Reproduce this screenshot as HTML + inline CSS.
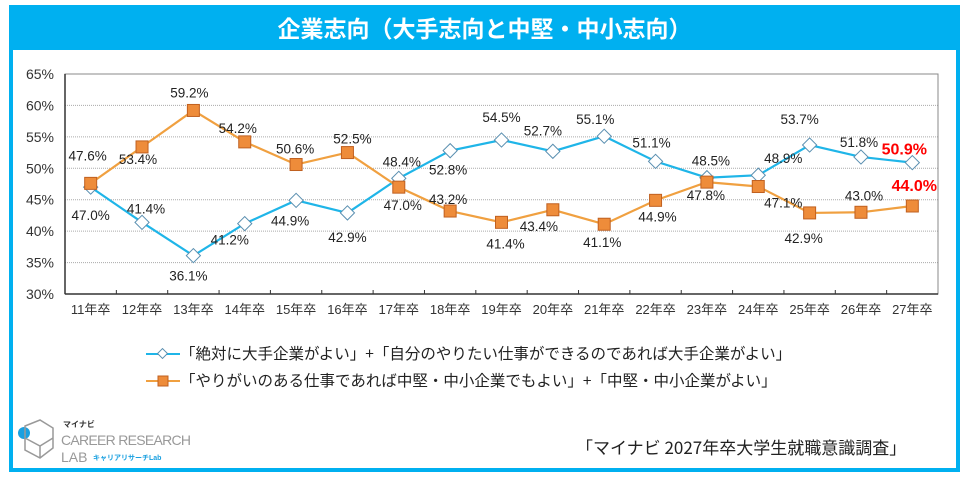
<!DOCTYPE html>
<html><head><meta charset="utf-8">
<style>
body{margin:0;width:968px;height:487px;background:#fff;overflow:hidden;font-family:"Liberation Sans","Noto Sans CJK JP",sans-serif;}
#frame{position:absolute;left:9px;top:5px;width:943px;height:463px;border:4px solid #00b0f0;border-top:none;}
#title{position:absolute;left:9px;top:5px;width:951px;height:45px;background:#00b0f0;color:#fff;font-weight:bold;font-size:23px;text-align:center;line-height:45px;font-family:"Noto Sans CJK JP",sans-serif;}
svg{position:absolute;left:0;top:0}
.leg{position:absolute;left:146px;font-size:15.5px;color:#222;font-family:"Noto Sans CJK JP",sans-serif;white-space:nowrap;}
#src{position:absolute;left:576px;top:434px;font-size:17px;color:#222;font-family:"Noto Sans CJK JP",sans-serif;white-space:nowrap;}
</style></head><body>
<div id="frame"></div>
<div id="title">企業志向（大手志向と中堅・中小志向）</div>
<svg id="chart" width="968" height="487"></svg>
<div class="leg" style="top:342px"><svg width="34" height="14" style="position:relative;top:2px"><line x1="0" y1="7" x2="34" y2="7" stroke="#1fb5e8" stroke-width="2"/><rect x="13" y="3" width="7" height="7" fill="#fff" stroke="#5a8fb0" transform="rotate(45 16.5 6.5)"/></svg>「絶対に大手企業がよい」+「自分のやりたい仕事ができるのであれば大手企業がよい」</div>
<div class="leg" style="top:369px"><svg width="34" height="14" style="position:relative;top:2px"><line x1="0" y1="7" x2="34" y2="7" stroke="#f0a040" stroke-width="2"/><rect x="12" y="2" width="10" height="10" fill="#ee8c3a" stroke="#c06020"/></svg>「やりがいのある仕事であれば中堅・中小企業でもよい」+「中堅・中小企業がよい」</div>
<div id="src">「マイナビ 2027年卒大学生就職意識調査」</div>
<svg width="200" height="50" style="left:15px;top:418px">
<circle cx="9" cy="15" r="6" fill="#1aa0e0"/>
<path d="M10 8 L25 2 L38 10 L38 30 L25 40 L10 32 Z M10 20 L25 28 L38 20 M25 28 L25 40" fill="none" stroke="#999" stroke-width="1.5"/>
<text x="48" y="9" font-size="8" font-weight="bold" fill="#333">マイナビ</text>
<text x="46" y="27" font-size="14" fill="#999" textLength="130">CAREER RESEARCH</text>
<text x="46" y="44" font-size="14" fill="#999">LAB</text>
<text x="78" y="42" font-size="7" font-weight="bold" fill="#1aa0e0">キャリアリサーチLab</text>
</svg>
<script>
const categories=["11年卒","12年卒","13年卒","14年卒","15年卒","16年卒","17年卒","18年卒","19年卒","20年卒","21年卒","22年卒","23年卒","24年卒","25年卒","26年卒","27年卒"];
const largeValues=[47.0,41.4,36.1,41.2,44.9,42.9,48.4,52.8,54.5,52.7,55.1,51.1,48.5,48.9,53.7,51.8,50.9];
const smallValues=[47.6,53.4,59.2,54.2,50.6,52.5,47.0,43.2,41.4,43.4,41.1,44.9,47.8,47.1,42.9,43.0,44.0];
const yTicks=[30,35,40,45,50,55,60,65];
const largeLabelOff=[[0,28],[4,-14],[-5,20],[-15,16],[-6,20],[0,24],[3,-17],[-2,19],[0,-23],[-10,-21],[-9,-17],[-4,-19],[4,-17],[25,-17],[-10,-26],[-2,-15],[-8,-13]];
const smallLabelOff=[[-3,-28],[-4,12],[-4,-18],[-7,-14],[-1,-16],[5,-14],[4,18],[-2,-12],[4,21],[-14,16],[-2,18],[2,16],[-1,13],[25,16],[-6,25],[3,-17],[2,-20]];
const L=65,R=938,T=74,B=294,ymin=30,ymax=65;
const bw=(R-L)/categories.length;
const X=i=>L+bw*(i+0.5);
const Y=v=>B-(v-ymin)/(ymax-ymin)*(B-T);
const svg=document.getElementById('chart');
const NS='http://www.w3.org/2000/svg';
function mk(t,a){const e=document.createElementNS(NS,t);for(const k in a)e.setAttribute(k,a[k]);svg.appendChild(e);return e;}
yTicks.forEach(v=>{
 if(v>ymin&&v<ymax){const g=mk('line',{x1:L,x2:R,y1:Y(v),y2:Y(v),stroke:'#aaa','stroke-dasharray':'1 1'});
 
 }
 const t=mk('text',{x:54,y:Y(v)+5,'text-anchor':'end','font-size':14,fill:'#333'});t.textContent=v+'%';
 
 
});
const ax=mk('rect',{x:L,y:T,width:R-L,height:B-T,fill:'none',stroke:'#888','stroke-width':1});


mk('line',{x1:L,x2:R,y1:B,y2:B,stroke:'#333','stroke-width':1.5});
mk('line',{x1:L,x2:L,y1:T,y2:B,stroke:'#333','stroke-width':1.5});
categories.forEach((c,i)=>{
 if(i>0)mk('line',{x1:L+bw*i,x2:L+bw*i,y1:B,y2:B-4,stroke:'#333'});
 const t=mk('text',{x:X(i),y:314,'text-anchor':'middle','font-size':13,fill:'#333'});t.textContent=c;
 
 
});
function series(vals,color,name){
 const p=mk('polyline',{points:vals.map((v,i)=>X(i)+','+Y(v)).join(' '),fill:'none',stroke:color,'stroke-width':2.2});
 
 
}
series(largeValues,'#1fb5e8','large-company');
series(smallValues,'#f0a040','small-company');
largeValues.forEach((v,i)=>{
 const m=mk('rect',{x:X(i)-5,y:Y(v)-5,width:10,height:10,fill:'#fff',stroke:'#5a8fb0',transform:`rotate(45 ${X(i)} ${Y(v)})`});
 
 
});
smallValues.forEach((v,i)=>{
 const m=mk('rect',{x:X(i)-6,y:Y(v)-6,width:12,height:12,fill:'#ee8c3a',stroke:'#c06020'});
 
 
});
function labels(vals,off,name){
 vals.forEach((v,i)=>{
  const last=i===vals.length-1;
  const t=mk('text',{x:X(i)+off[i][0],y:Y(v)+off[i][1]+5,'text-anchor':'middle','font-size':last?16:13.5,fill:last?'#ff0000':'#222','font-weight':last?'bold':'normal'});
  t.textContent=v.toFixed(1)+'%';
  
  
 });
}
labels(largeValues,largeLabelOff,'large-company');
labels(smallValues,smallLabelOff,'small-company');
</script>
</body></html>
